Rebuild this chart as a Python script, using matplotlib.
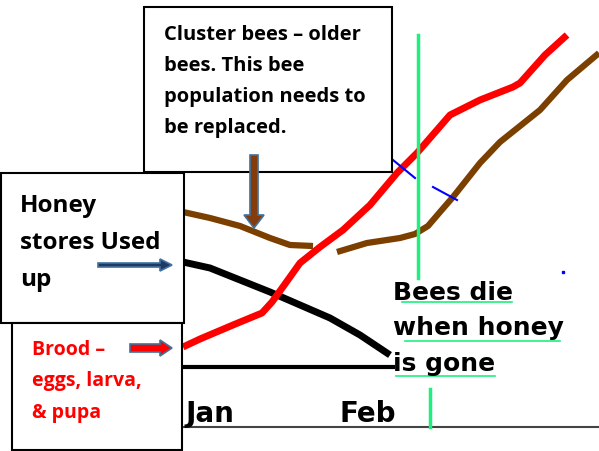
import matplotlib.pyplot as plt
from matplotlib.patches import Rectangle, FancyArrow

# curves (chart units = picture pixels, y grows downward)
brood_x = [183, 200, 233, 262, 272, 285, 300, 320, 343, 370, 397, 417, 450, 480, 513, 520, 545, 567]
brood_y = [347, 339, 325, 313, 302, 284, 263, 247, 230, 205, 173, 153, 115, 100, 87, 83, 55, 35]

cluster_x1 = [183, 210, 240, 270, 290, 313]
cluster_y1 = [212, 218, 226, 238, 245, 246]
cluster_x2 = [337, 367, 400, 415, 428, 440, 453, 480, 500, 540, 567, 599]
cluster_y2 = [252, 243, 238, 234, 226, 212, 197, 163, 142, 110, 80, 53]

honey_x = [183, 210, 240, 270, 300, 330, 360, 390]
honey_y = [262, 268, 280, 292, 305, 318, 335, 355]

months = ['Jan', 'Feb']
month_x = [186, 339]

cluster_lines = ['Cluster bees \u2013 older', 'bees. This bee', 'population needs to', 'be replaced.']
cluster_base = [40, 71, 102, 133]
honey_lines = ['Honey', 'stores Used', 'up']
honey_base = [212, 249, 286]
brood_lines = ['Brood \u2013', 'eggs, larva,', '& pupa']
brood_base = [355, 386, 418]
die_lines = ['Bees die', 'when honey', 'is gone']
die_base = [300, 335, 371]

fig = plt.figure(figsize=(5.99, 4.51), dpi=100)
ax = fig.add_axes([0, 0, 1, 1])
ax.set_xlim(0, 599)
ax.set_ylim(451, 0)
ax.axis('off')

# axis lines
ax.plot([183, 599], [427, 427], color='#444444', lw=1.5)
ax.plot([183, 393], [367, 367], color='black', lw=3)

# curves
ax.plot(cluster_x1, cluster_y1, color='#7B3F00', lw=4.5, solid_capstyle='butt')
ax.plot(cluster_x2, cluster_y2, color='#7B3F00', lw=4.5, solid_capstyle='butt')
ax.plot(honey_x, honey_y, color='black', lw=5, solid_capstyle='butt')
ax.plot(brood_x, brood_y, color='#FF0000', lw=5, solid_capstyle='butt')

# blue dashes and dot
ax.plot([393, 415], [160, 178], color='#0000FF', lw=1.5)
ax.plot([433, 457], [187, 200], color='#0000FF', lw=1.5)
ax.plot([563], [272], 's', color='#0000FF', ms=1.5)

# green marker line
green = '#1EF080'
ax.plot([418, 418], [35, 278], color=green, lw=2.5)
ax.plot([430, 430], [389, 427], color=green, lw=2.5)
ax.plot([402, 512], [302, 302], color=green, lw=1.2)
ax.plot([405, 560], [341, 341], color=green, lw=1.2)
ax.plot([396, 495], [376, 376], color=green, lw=1.2)

# month labels
for m, x in zip(months, month_x):
    ax.text(x, 422, m, fontsize=20, fontweight='bold', family='DejaVu Sans',
            va='baseline', ha='left')

# boxes
ax.add_patch(Rectangle((144, 7), 248, 165, facecolor='white', edgecolor='black', lw=1.5, zorder=3))
ax.add_patch(Rectangle((1, 173), 183, 150, facecolor='white', edgecolor='black', lw=1.5, zorder=3))
ax.add_patch(Rectangle((12, 323), 170, 127, facecolor='white', edgecolor='black', lw=1.5, zorder=3))

for s, y in zip(cluster_lines, cluster_base):
    ax.text(164, y, s, fontsize=14.5, fontweight='bold', family='Open Sans',
            va='baseline', ha='left', zorder=4)
for s, y in zip(honey_lines, honey_base):
    ax.text(20, y, s, fontsize=17.5, fontweight='bold', family='Open Sans',
            va='baseline', ha='left', zorder=4)
for s, y in zip(brood_lines, brood_base):
    ax.text(32, y, s, fontsize=14, fontweight='bold', family='Open Sans',
            color='#FF0000', va='baseline', ha='left', zorder=4)
for s, y in zip(die_lines, die_base):
    ax.text(393, y, s, fontsize=18, fontweight='bold', family='DejaVu Sans',
            va='baseline', ha='left')

# arrows
ax.add_patch(FancyArrow(254, 155, 0, 60, width=8, head_width=20, head_length=13,
                        length_includes_head=False, facecolor='#843C0C',
                        edgecolor='#41719C', lw=1.2, zorder=5))
ax.add_patch(FancyArrow(98, 265, 62, 0, width=4, head_width=12, head_length=12,
                        facecolor='#1F3864', edgecolor='#41719C', lw=1.2, zorder=5))
ax.add_patch(FancyArrow(130, 348, 30, 0, width=8, head_width=16, head_length=12,
                        facecolor='#FF0000', edgecolor='#41719C', lw=1.2, zorder=5))

fig.savefig('out.png', dpi=100)
